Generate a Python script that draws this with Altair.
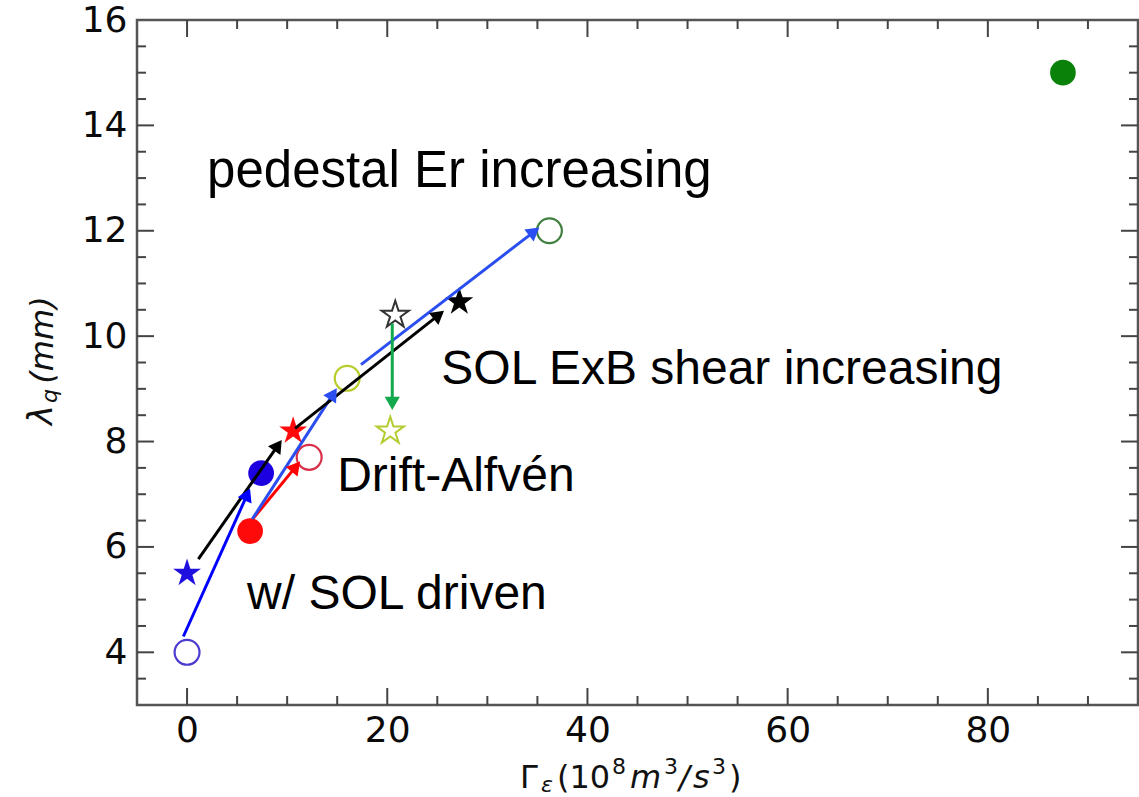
import math
import altair as alt
import pandas as pd

# ---------------- plot geometry ----------------
W, H = 1001, 685
X_DOM = [-5, 95]
Y_DOM = [3, 16]
PX_X = W / (X_DOM[1] - X_DOM[0])
PX_Y = H / (Y_DOM[1] - Y_DOM[0])

# ---------------- data ----------------
# open circles
oc_x = [0.0, 12.2, 16.0, 36.2]
oc_y = [4.0, 7.7, 9.2, 12.0]
oc_col = ["#4b3bcf", "#d9304a", "#b8cc2c", "#3f7f3f"]

# filled circles
fc_x = [7.4, 6.3, 87.5]
fc_y = [7.4, 6.3, 15.0]
fc_col = ["#1c00e0", "#ff0a0a", "#0a820a"]

# filled stars
fs_x = [0.0, 10.6, 27.2]
fs_y = [5.5, 8.2, 10.65]
fs_col = ["#2010e0", "#ff0a0a", "#000000"]

# open stars
os_x = [20.3, 20.8]
os_y = [8.2, 10.4]
os_col = ["#b5cc30", "#333333"]

# arrows (start -> tip)
ar_x0 = [-0.37, 1.13, 6.52, 6.52, 10.79, 17.38, 20.5]
ar_y0 = [4.30, 5.77, 6.52, 6.53, 8.25, 9.46, 10.24]
ar_x1 = [6.29, 9.46, 11.29, 14.96, 25.67, 35.2, 20.5]
ar_y1 = [7.11, 8.03, 7.62, 9.01, 10.48, 12.06, 8.60]
ar_col = ["#0000ff", "#000000", "#ff0000", "#2b4ef0", "#000000", "#2b4ef0", "#12a84c"]

# annotations
ann1_text = ["pedestal Er increasing"]
ann1_x = [2.0]
ann1_y = [13.12]
ann_text = ["SOL ExB shear increasing", "Drift-Alfvén", "w/ SOL driven"]
ann_x = [25.4, 15.0, 6.0]
ann_y = [9.36, 7.33, 5.09]

# ticks
x_major = [0, 20, 40, 60, 80]
x_minor = [5, 10, 15, 25, 30, 35, 45, 50, 55, 65, 70, 75, 85, 90]
y_major = [4, 6, 8, 10, 12, 14, 16]
y_major_marks = [4, 6, 8, 10, 12, 14]
y_minor = [3.5, 4.5, 5, 5.5, 6.5, 7, 7.5, 8.5, 9, 9.5, 10.5, 11, 11.5,
           12.5, 13, 13.5, 14.5, 15, 15.5]

# ---------------- helpers ----------------
XS = alt.Scale(domain=X_DOM, nice=False, zero=False)
YS = alt.Scale(domain=Y_DOM, nice=False, zero=False)


def star_path(inner=0.382):
    pts = []
    for k in range(10):
        r = 1.0 if k % 2 == 0 else inner
        a = math.radians(-90 + 36 * k)
        pts.append((r * math.cos(a), r * math.sin(a)))
    return "M" + "L".join(f"{x:.4f},{y:.4f}" for x, y in pts) + "Z"


STAR = star_path()

AX_X = alt.Axis(values=x_major, ticks=False, domain=False, grid=False,
                labelFontSize=36, labelFont="DejaVu Sans", labelColor="#0a0a0a",
                labelPadding=8, title=None)
AX_Y = alt.Axis(values=y_major, ticks=False, domain=False, grid=False,
                labelFontSize=36, labelFont="DejaVu Sans", labelColor="#0a0a0a",
                labelPadding=10, title=None)


def X(field):
    return alt.X(field, scale=XS, axis=AX_X)


def Y(field):
    return alt.Y(field, scale=YS, axis=AX_Y)


def pts_layer(xs, ys, cols, shape, filled, size, sw):
    df = pd.DataFrame({"x": xs, "y": ys, "c": cols})
    mk = dict(shape=shape, filled=filled, size=size, opacity=1)
    if not filled:
        mk["strokeWidth"] = sw
    enc = dict(x=X("x:Q"), y=Y("y:Q"))
    if filled:
        enc["fill"] = alt.Color("c:N", scale=None)
    else:
        enc["stroke"] = alt.Color("c:N", scale=None)
    return alt.Chart(df).mark_point(**mk).encode(**enc)


layers = []
layers.append(pts_layer(oc_x, oc_y, oc_col, "circle", False, 620, 2.2))
layers.append(pts_layer(fc_x, fc_y, fc_col, "circle", True, 660, 0))
layers.append(pts_layer(fs_x, fs_y, fs_col, STAR, True, 860, 0))
layers.append(pts_layer(os_x, os_y, os_col, STAR, False, 820, 2.0))

# ---------------- arrows ----------------
HEAD = 230
h = math.sqrt(3) / 2 * math.sqrt(HEAD) / 2
hx, hy, ang = [], [], []
for x0, y0, x1, y1 in zip(ar_x0, ar_y0, ar_x1, ar_y1):
    dxs = (x1 - x0) * PX_X
    dys = -(y1 - y0) * PX_Y
    L = math.hypot(dxs, dys)
    ux, uy = dxs / L, dys / L
    hx.append(x1 - ux * h / PX_X)
    hy.append(y1 + uy * h / PX_Y)
    ang.append(math.degrees(math.atan2(dxs, -dys)) % 360)

arr = pd.DataFrame({"x0": ar_x0, "y0": ar_y0, "hx": hx, "hy": hy,
                    "ang": ang, "c": ar_col})
layers.append(
    alt.Chart(arr).mark_rule(strokeWidth=3).encode(
        x=X("x0:Q"), y=Y("y0:Q"),
        x2="hx:Q", y2="hy:Q",
        color=alt.Color("c:N", scale=None),
    )
)
layers.append(
    alt.Chart(arr).mark_point(shape="triangle-up", filled=True, size=HEAD, opacity=1).encode(
        x=X("hx:Q"), y=Y("hy:Q"),
        angle=alt.Angle("ang:Q", scale=None),
        fill=alt.Color("c:N", scale=None),
    )
)

# ---------------- annotations ----------------
ann1 = pd.DataFrame({"t": ann1_text, "x": ann1_x, "y": ann1_y})
layers.append(
    alt.Chart(ann1).mark_text(align="left", baseline="middle", font="Liberation Sans",
                              fontSize=51, color="#000000").encode(
        x=X("x:Q"), y=Y("y:Q"), text="t:N")
)
ann = pd.DataFrame({"t": ann_text, "x": ann_x, "y": ann_y})
layers.append(
    alt.Chart(ann).mark_text(align="left", baseline="middle", font="Liberation Sans",
                             fontSize=48, color="#000000").encode(
        x=X("x:Q"), y=Y("y:Q"), text="t:N")
)

# ---------------- inward ticks ----------------
TCOL = "#444444"


def xticks(vals, ln):
    df = pd.DataFrame({"v": vals})
    b = alt.Chart(df).mark_rule(color=TCOL, strokeWidth=2).encode(
        x=X("v:Q"), y=alt.value(H), y2=alt.value(H - ln))
    t = alt.Chart(df).mark_rule(color=TCOL, strokeWidth=2).encode(
        x=X("v:Q"), y=alt.value(0), y2=alt.value(ln))
    return [b, t]


def yticks(vals, ln):
    df = pd.DataFrame({"v": vals})
    l = alt.Chart(df).mark_rule(color=TCOL, strokeWidth=2).encode(
        y=Y("v:Q"), x=alt.value(0), x2=alt.value(ln))
    r = alt.Chart(df).mark_rule(color=TCOL, strokeWidth=2).encode(
        y=Y("v:Q"), x=alt.value(W), x2=alt.value(W - ln))
    return [l, r]


layers += xticks(x_major, 17) + xticks(x_minor, 9)
layers += yticks(y_major_marks, 17) + yticks(y_minor, 9)


# ---------------- axis titles (math-like pieces) ----------------
def piece(text, x, y, size, italic=False, angle=0, align="left", baseline="alphabetic"):
    kw = dict(text=text, fontSize=size, font="DejaVu Sans", color="#111111",
              align=align, baseline=baseline)
    if italic:
        kw["fontStyle"] = "italic"
    if angle:
        kw["angle"] = angle
    return alt.Chart(alt.Data(values=[{}])).mark_text(**kw).encode(
        x=alt.value(x), y=alt.value(y))


xt = ["Γ", "ε", "(10", "8", "m", "3", "/", "s", "3", ")"]
layers += [
    piece(xt[0], 383, 768, 32),
    piece(xt[1], 404, 772, 22, italic=True),
    piece(xt[2], 420, 768, 32),
    piece(xt[3], 475, 754, 22),
    piece(xt[4], 493, 768, 32, italic=True),
    piece(xt[5], 527, 754, 22),
    piece(xt[6], 542, 768, 32, italic=True),
    piece(xt[7], 556, 768, 32, italic=True),
    piece(xt[8], 575, 754, 22),
    piece(xt[9], 592, 768, 32),
]

yt = ["λ", "q", "(mm)"]
layers += [
    piece(yt[0], -95, 395, 34, italic=True, angle=270, align="center", baseline="middle"),
    piece(yt[1], -87, 376, 22, italic=True, angle=270, align="center", baseline="middle"),
    piece(yt[2], -94, 320, 32, italic=True, angle=270, align="center", baseline="middle"),
]

chart = alt.layer(*layers).properties(
    width=W, height=H,
    autosize=alt.AutoSizeParams(type="none"),
    padding={"left": 137, "top": 20, "right": 1, "bottom": 92},
    background="white",
).configure_view(stroke="#555555", strokeWidth=2.5)

chart.save("out.html", embed_options={"renderer": "svg", "actions": False})
